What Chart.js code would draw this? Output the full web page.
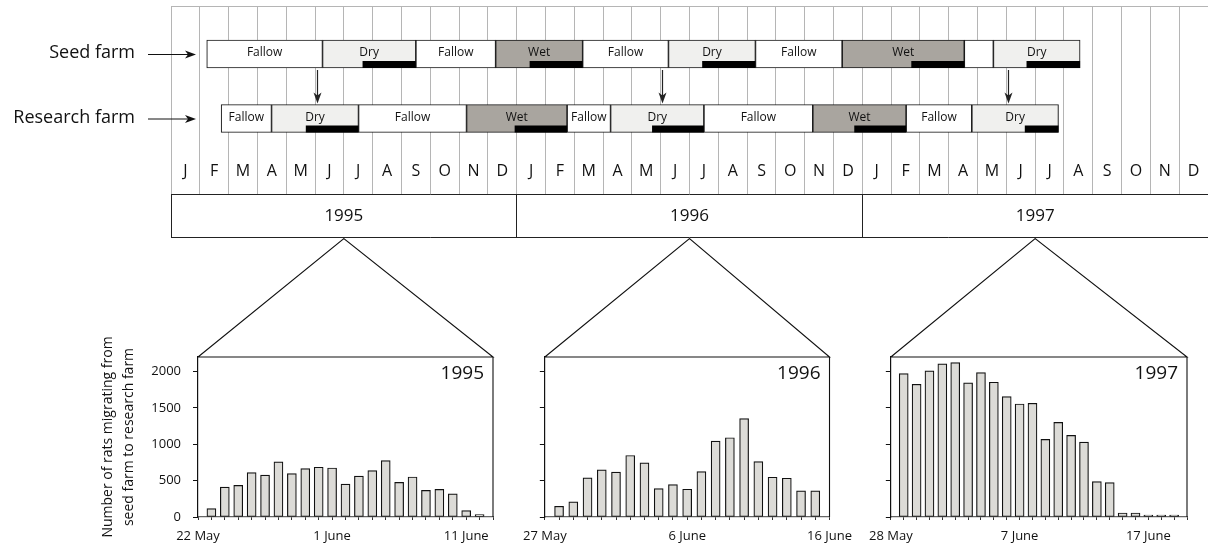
<!DOCTYPE html>
<html>
<head>
<meta charset="utf-8">
<script src="https://cdn.jsdelivr.net/npm/chart.js@4/dist/chart.umd.min.js"></script>
<style>
  html, body { margin: 0; padding: 0; background: #fff; }
  body { width: 1208px; height: 546px; position: relative; overflow: hidden; }
  .box { position: absolute; }
</style>
</head>
<body>
<div class="box" style="left:0;top:0;width:1208px;height:246px"><canvas id="timeline"></canvas></div>
<div class="box" style="left:95px;top:238px;width:410px;height:308px"><canvas id="c1995"></canvas></div>
<div class="box" style="left:515px;top:238px;width:345px;height:308px"><canvas id="c1996"></canvas></div>
<div class="box" style="left:861px;top:238px;width:347px;height:308px"><canvas id="c1997"></canvas></div>
<script>
// ---- timeline data (months counted from 1 Jan 1995) ----
const months = ['J', 'F', 'M', 'A', 'M', 'J', 'J', 'A', 'S', 'O', 'N', 'D'];
const years = ['1995', '1996', '1997'];
const farms = ['Seed farm', 'Research farm'];

const seedEdges = [1.24, 5.26, 8.5, 11.27, 14.29, 17.27, 20.29, 23.3, 27.54, 28.55, 31.56];
const seedPhases = ['Fallow', 'Dry', 'Fallow', 'Wet', 'Fallow', 'Dry', 'Fallow', 'Wet', 'Fallow', 'Dry'];
const seedBreeding = [[6.65, 8.5], [12.45, 14.29], [18.44, 20.29], [25.7, 27.54], [29.7, 31.56]];

const researchEdges = [1.74, 3.49, 6.51, 10.26, 13.75, 15.26, 18.5, 22.28, 25.52, 27.8, 30.81];
const researchPhases = ['Fallow', 'Dry', 'Fallow', 'Wet', 'Fallow', 'Dry', 'Fallow', 'Wet', 'Fallow', 'Dry'];
const researchBreeding = [[4.68, 6.51], [11.93, 13.75], [16.7, 18.5], [23.72, 25.52], [29.64, 30.81]];

const migrationMonths = [5.07, 17.07, 29.08];

// ---- daily migration counts ----
const rats1995 = [115, 411, 434, 610, 577, 757, 596, 665, 684, 674, 453, 563, 637, 776, 476, 550, 365, 379, 319, 88, 32];
const rats1996 = [147, 207, 538, 648, 616, 846, 745, 391, 446, 382, 625, 1044, 1090, 1352, 763, 547, 533, 359, 359];
const rats1997 = [1972, 1825, 2009, 2106, 2124, 1844, 1986, 1853, 1655, 1554, 1563, 1067, 1301, 1122, 1030, 487, 474, 55, 55, 14, 9, 9];

const countTicks = [0, 500, 1000, 1500, 2000];
const tickDays = [0, 10, 20];
const ticks1995 = ['22 May', '1 June', '11 June'];
const ticks1996 = ['27 May', '6 June', '16 June'];
const ticks1997 = ['28 May', '7 June', '17 June'];

Chart.defaults.font.family = "'Open Sans', 'Noto Sans', sans-serif";
Chart.defaults.color = '#111';
Chart.defaults.animation = false;
Chart.defaults.plugins.legend.display = false;
Chart.defaults.plugins.tooltip.enabled = false;

const phaseColor = { Fallow: '#ffffff', Dry: '#f0f0ee', Wet: '#a9a59f' };

const toSegs = edges => edges.slice(0, -1).map((s, i) => [s, edges[i + 1]]);
const seedSegs = toSegs(seedEdges);
const researchSegs = toSegs(researchEdges);

const timelineSets = [];
for (let k = 0; k < Math.max(seedSegs.length, researchSegs.length); k++) {
    timelineSets.push({
        data: [seedSegs[k] || null, researchSegs[k] || null],
        phases: [seedPhases[k], researchPhases[k]],
        backgroundColor: [phaseColor[seedPhases[k]], phaseColor[researchPhases[k]]]
    });
}

function arrowHead(ctx, x, y, dir) {
    // dir: 'right' or 'down', tip at (x, y)
    ctx.beginPath();
    if (dir === 'right') {
        ctx.moveTo(x, y);
        ctx.lineTo(x - 11, y - 4);
        ctx.lineTo(x - 8, y);
        ctx.lineTo(x - 11, y + 4);
    } else {
        ctx.moveTo(x, y);
        ctx.lineTo(x - 4, y - 11);
        ctx.lineTo(x, y - 8);
        ctx.lineTo(x + 4, y - 11);
    }
    ctx.closePath();
    ctx.fill();
}

// grid, month row, year row, farm names
const timelineBack = {
    id: 'timelineBack',
    beforeDatasetsDraw(chart) {
        const { ctx, scales: { x, y } } = chart;
        const gridTop = 6, monthBottom = 194, yearBottom = 238;
        const nMonths = years.length * 12;
        ctx.save();
        ctx.strokeStyle = '#b5b5b5';
        ctx.lineWidth = 1;
        ctx.beginPath();
        for (let i = 0; i <= nMonths; i++) {
            const px = Math.floor(x.getPixelForValue(i)) + 0.5;
            ctx.moveTo(px, gridTop);
            ctx.lineTo(px, monthBottom);
        }
        ctx.moveTo(x.getPixelForValue(0), gridTop + 0.5);
        ctx.lineTo(x.getPixelForValue(nMonths), gridTop + 0.5);
        ctx.stroke();

        ctx.fillStyle = '#111';
        ctx.textAlign = 'center';
        ctx.textBaseline = 'middle';
        ctx.font = "16px 'Open Sans'";
        for (let i = 0; i < nMonths; i++) {
            ctx.fillText(months[i % 12], x.getPixelForValue(i + 0.5), 171);
        }

        ctx.strokeStyle = '#222';
        ctx.beginPath();
        ctx.moveTo(x.getPixelForValue(0), monthBottom + 0.5);
        ctx.lineTo(x.getPixelForValue(nMonths), monthBottom + 0.5);
        ctx.moveTo(x.getPixelForValue(0), yearBottom - 0.5);
        ctx.lineTo(x.getPixelForValue(nMonths), yearBottom - 0.5);
        years.forEach((yr, k) => {
            const px = Math.floor(x.getPixelForValue(k * 12)) + 0.5;
            ctx.moveTo(px, monthBottom);
            ctx.lineTo(px, yearBottom);
        });
        ctx.stroke();
        ctx.font = "17px 'Open Sans'";
        years.forEach((yr, k) => ctx.fillText(yr, x.getPixelForValue(k * 12 + 6), 216));

        // farm names with arrows
        ctx.font = "18px 'Open Sans'";
        ctx.textAlign = 'right';
        ctx.strokeStyle = '#111';
        farms.forEach((f, r) => {
            const cy = y.getPixelForValue(r);
            ctx.fillText(f, 135, cy - 1);
            ctx.beginPath();
            ctx.moveTo(148, cy + 0.5);
            ctx.lineTo(190, cy + 0.5);
            ctx.stroke();
            arrowHead(ctx, 196, cy + 0.5, 'right');
        });
        ctx.restore();
    },
    afterDatasetsDraw(chart) {
        const { ctx, scales: { x, y } } = chart;
        const half = chart.getDatasetMeta(0).data[0].height / 2;
        ctx.save();
        // breeding periods: black strip along the bottom of the bar
        ctx.fillStyle = '#000';
        [seedBreeding, researchBreeding].forEach((list, r) => {
            const bottom = y.getPixelForValue(r) + half;
            list.forEach(([s, e]) => {
                const x0 = x.getPixelForValue(s), x1 = x.getPixelForValue(e);
                ctx.fillRect(x0, bottom - 7, x1 - x0, 7);
            });
        });
        // phase names
        ctx.font = "12px 'Open Sans'";
        ctx.textAlign = 'center';
        ctx.textBaseline = 'middle';
        ctx.fillStyle = '#111';
        chart.data.datasets.forEach((ds, k) => {
            chart.getDatasetMeta(k).data.forEach((el, r) => {
                if (!ds.data[r]) return;
                const w = Math.abs(el.x - el.base);
                const txt = ds.phases[r];
                if (ctx.measureText(txt).width + 6 > w) return;
                ctx.fillText(txt, (el.x + el.base) / 2, el.y - 1);
            });
        });
        // migration arrows seed -> research
        const y0 = y.getPixelForValue(0) + half + 2;
        const y1 = y.getPixelForValue(1) - half - 1;
        ctx.strokeStyle = '#222';
        ctx.fillStyle = '#222';
        ctx.lineWidth = 1.2;
        migrationMonths.forEach(m => {
            const px = Math.floor(x.getPixelForValue(m)) + 0.5;
            ctx.beginPath();
            ctx.moveTo(px, y0);
            ctx.lineTo(px, y1 - 6);
            ctx.stroke();
            arrowHead(ctx, px, y1, 'down');
        });
        ctx.restore();
    }
};

const timeline = new Chart(document.getElementById('timeline'), {
    type: 'bar',
    data: { labels: farms, datasets: timelineSets },
    options: {
        indexAxis: 'y',
        responsive: true,
        maintainAspectRatio: false,
        layout: { padding: { left: 171, right: 0, top: 21.75, bottom: 95.25 } },
        datasets: {
            bar: {
                grouped: false,
                barThickness: 28,
                borderColor: '#1a1a1a',
                borderWidth: 1.1,
                borderSkipped: false
            }
        },
        scales: {
            x: { type: 'linear', min: 0, max: years.length * 12, display: false },
            y: { type: 'category', display: false, offset: true }
        }
    },
    plugins: [timelineBack]
});

// chart frame, zoom triangle up to the year box, year tag
const zoomBox = {
    id: 'zoomBox',
    afterDraw(chart, args, opts) {
        const { ctx, chartArea: { left, right, top, bottom } } = chart;
        ctx.save();
        ctx.strokeStyle = '#111';
        ctx.lineWidth = 1.1;
        ctx.beginPath();
        ctx.moveTo(left, top);
        ctx.lineTo(opts.apex, 0.6);
        ctx.lineTo(right, top);
        ctx.lineTo(left, top);
        ctx.moveTo(right, top);
        ctx.lineTo(right, bottom);
        ctx.stroke();
        ctx.fillStyle = '#111';
        ctx.font = "19px 'Open Sans'";
        ctx.textAlign = 'right';
        ctx.textBaseline = 'middle';
        ctx.fillText(opts.year, right - 9, top + 17);
        ctx.restore();
    }
};

function ratChart(id, counts, span, tickLabels, yearIdx, axisWidth, padRight, withLabels) {
    const canvas = document.getElementById(id);
    const offsetLeft = canvas.parentNode.offsetLeft;
    const apex = timeline.scales.x.getPixelForValue(yearIdx * 12 + 6) - offsetLeft;
    return new Chart(canvas, {
        type: 'bar',
        data: {
            datasets: [{
                data: counts.map((v, i) => ({ x: i + 1, y: v })),
                backgroundColor: '#dcdbd7',
                borderColor: '#111',
                borderWidth: 1.2,
                borderSkipped: false,
                barThickness: 9,
                minBarLength: 2
            }]
        },
        options: {
            responsive: true,
            maintainAspectRatio: false,
            layout: { padding: { top: 119, right: padRight, left: 0, bottom: 0 } },
            scales: {
                x: {
                    type: 'linear',
                    min: 0,
                    max: span,
                    offset: false,
                    grid: { offset: false, drawOnChartArea: false, drawTicks: true, tickLength: 3, color: '#333' },
                    border: { color: '#666', width: 1.2 },
                    afterBuildTicks: s => { s.ticks = Array.from({ length: span + 1 }, (_, d) => ({ value: d })); },
                    afterFit: s => { s.height = 29; },
                    ticks: {
                        autoSkip: false,
                        maxRotation: 0,
                        padding: 8,
                        font: { size: 13 },
                        callback: v => {
                            const k = tickDays.indexOf(v);
                            return k >= 0 ? tickLabels[k] : '';
                        }
                    }
                },
                y: {
                    min: 0,
                    max: 2200,
                    afterBuildTicks: s => { s.ticks = countTicks.map(v => ({ value: v })); },
                    afterFit: s => { s.width = axisWidth; },
                    grid: { drawOnChartArea: false, drawTicks: true, tickLength: 5, color: '#111' },
                    border: { color: '#111', width: 1.2 },
                    ticks: { display: withLabels, padding: 12, font: { size: 13 }, callback: v => String(v) },
                    title: {
                        display: withLabels,
                        text: ['Number of rats migrating from', 'seed farm to research farm'],
                        font: { size: 14, lineHeight: 1.5 },
                        padding: { top: 3, bottom: 0 }
                    }
                }
            },
            plugins: { zoomBox: { apex: apex, year: years[yearIdx] } }
        },
        plugins: [zoomBox]
    });
}

ratChart('c1995', rats1995, 22, ticks1995, 0, 103, 12, true);
ratChart('c1996', rats1996, 20, ticks1996, 1, 25, 19, false);
ratChart('c1997', rats1997, 23, ticks1997, 2, 25, 21, false);
</script>
</body>
</html>
